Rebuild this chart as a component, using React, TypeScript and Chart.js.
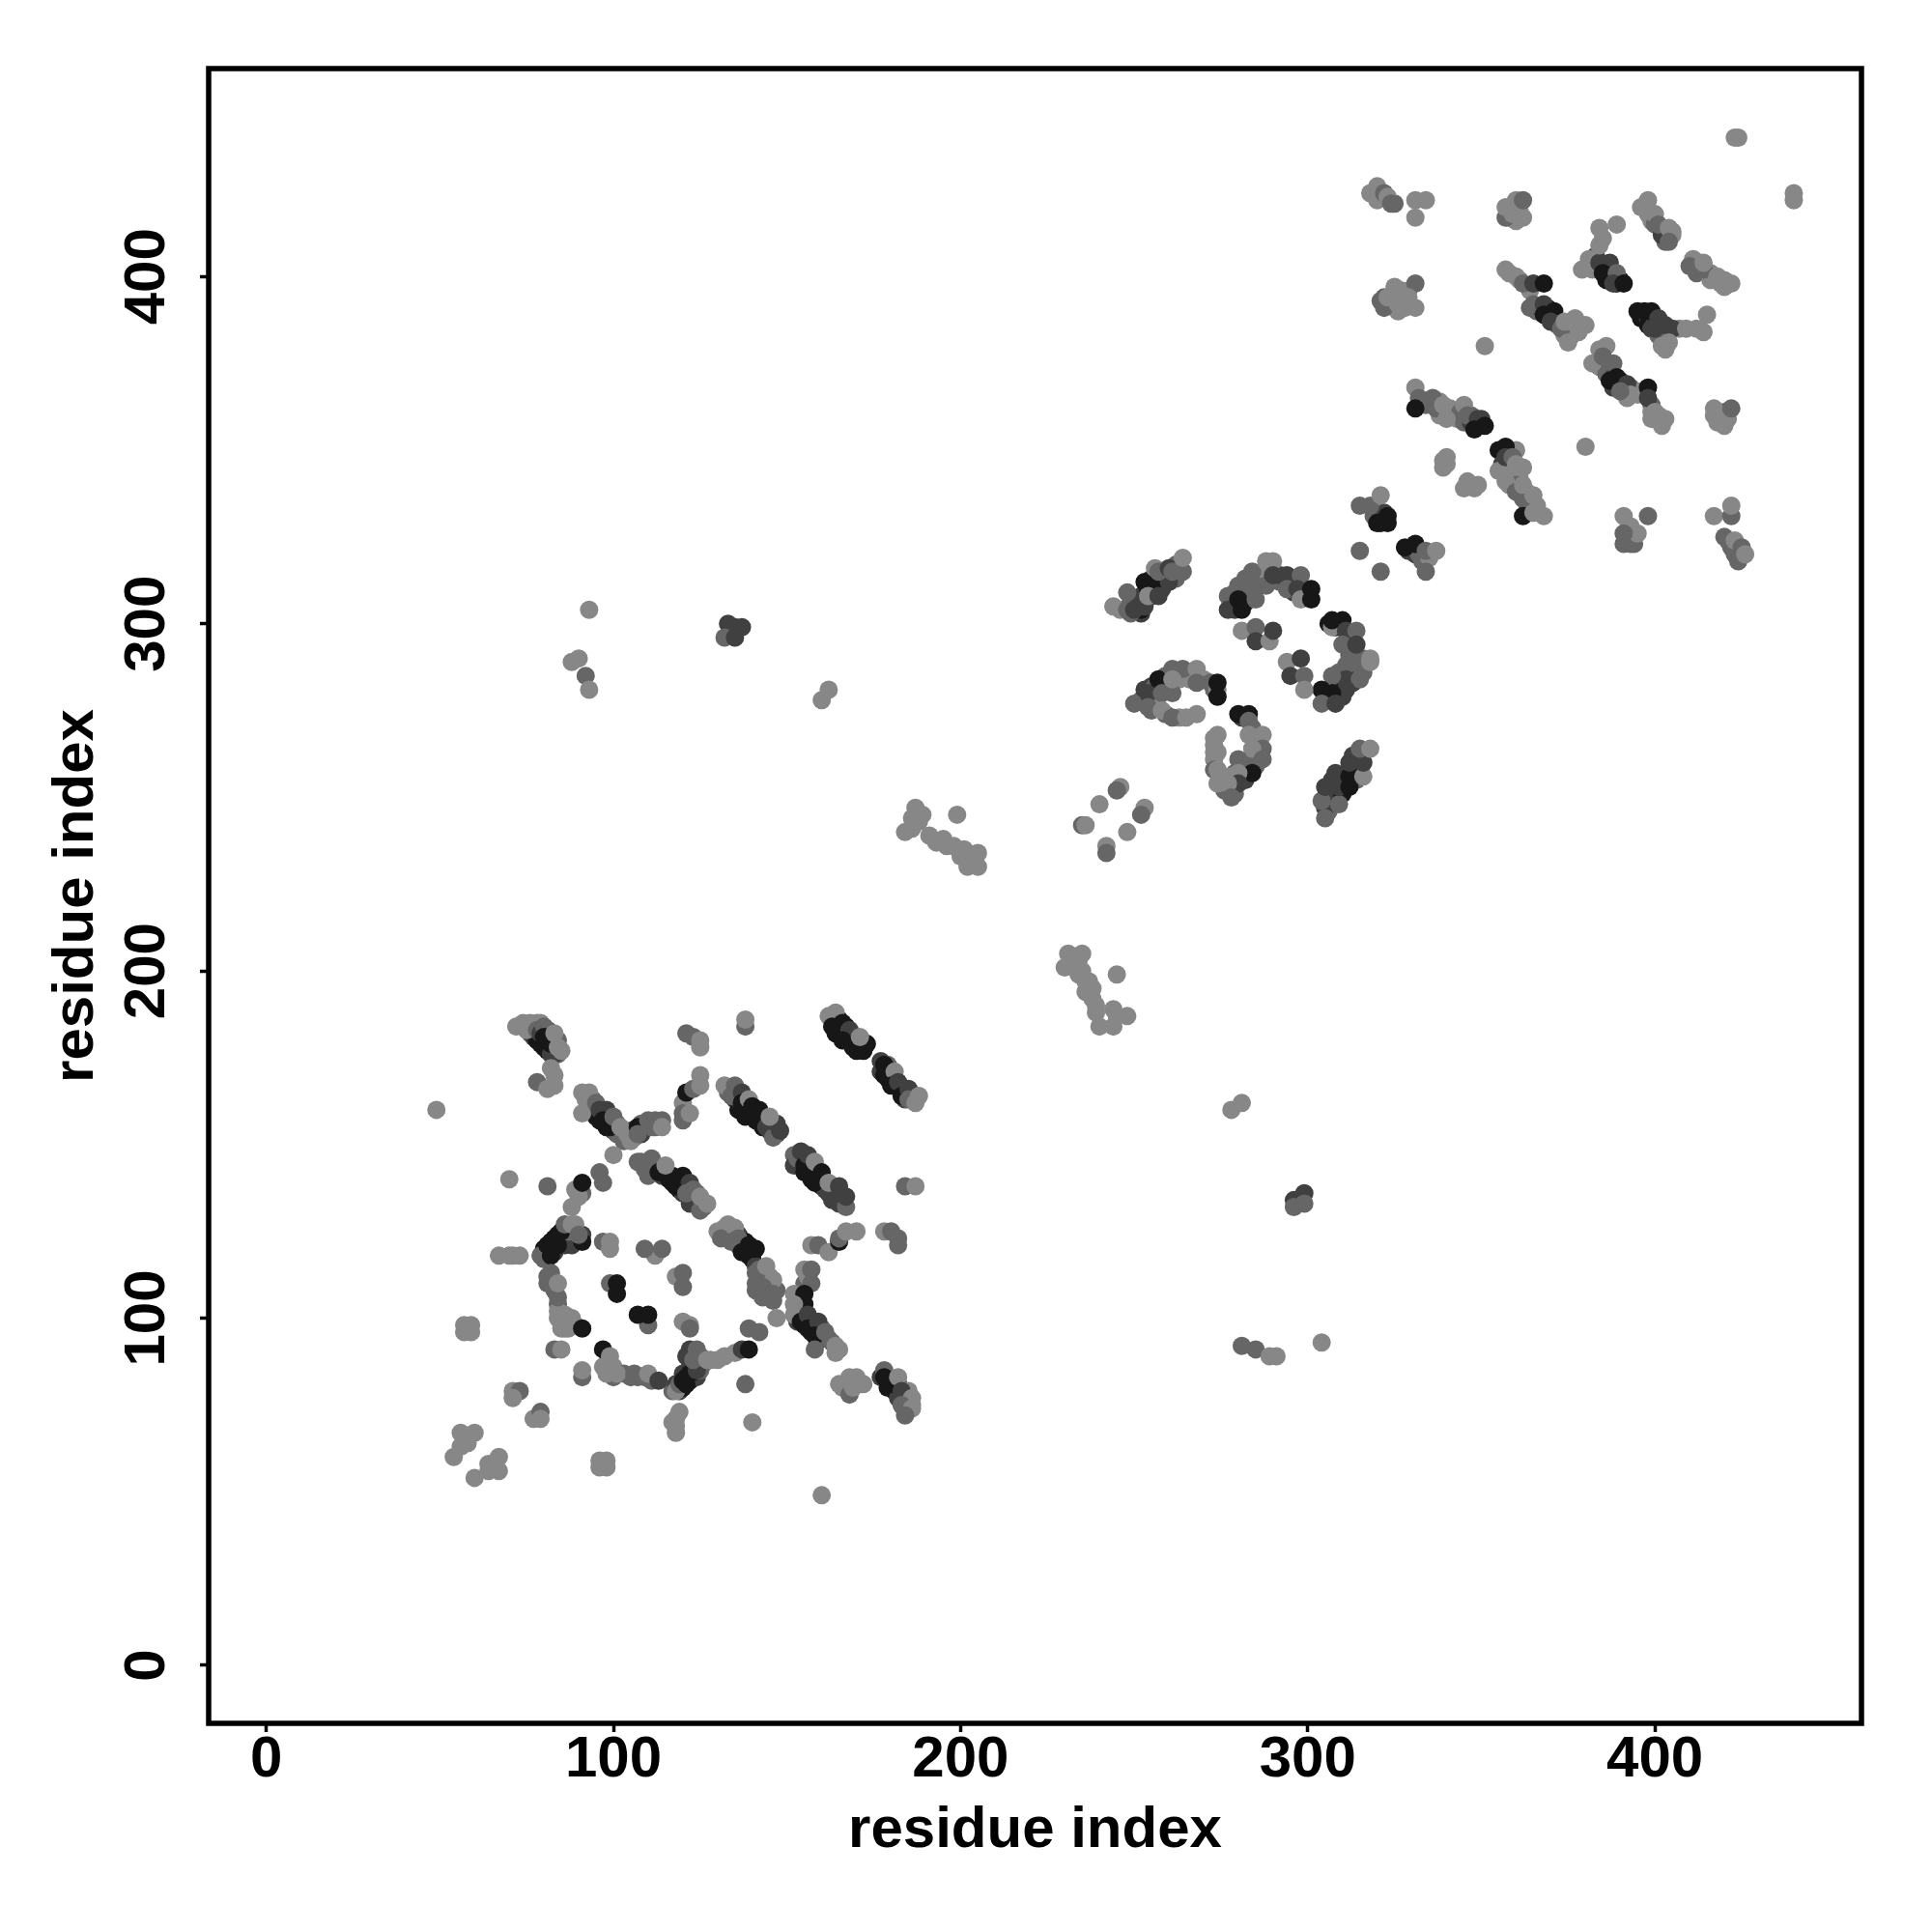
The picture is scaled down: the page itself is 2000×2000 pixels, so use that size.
import React, { useEffect, useRef } from "react";
import { Chart, registerables } from "chart.js";

Chart.register(...registerables);

// [residue x, residue y, contact strength 0..3]
type P = [number, number, number];

const lowerBandsUnder: P[] = [[76,182,1],[77,181,2],[78,180,3],[79,179,3],[80,178,3],[81,177,3],[82,176,2],[83,178,3],[84,176,1],[79,185,0],[81,183,2],[82,181,3],[84,180,1],
[92,163,0],[94,163,1],[94,160,2],[95,158,3],[96,157,3],[97,159,2],[98,155,3],[99,157,2],[100,154,2],[101,156,1],[101,153,1],[103,154,1],[105,152,1],[106,152,0],[105,154,2],[108,153,2],[108,156,1],[112,155,1],[112,157,1],[103,151,1],[105,151,0],
[163,186,1],[165,186,3],[165,183,3],[167,182,3],[167,184,3],[168,180,3],[170,180,3],[169,181,3],[172,177,3],[170,177,3],[171,179,3],[179,171,3],[179,169,3],[181,169,3],[181,167,3],[183,166,3],[184,165,3],[185,164,2],[184,163,2],[177,171,2],[177,174,2],[179,173,1],
[133,165,1],[134,166,1],[135,163,2],[136,160,3],[136,163,2],[138,161,3],[138,158,3],[140,159,3],[141,159,3],[142,157,3],[143,158,2],[143,155,3],[145,156,2],[145,154,2],[147,153,2],[146,154,2],[152,147,1],[152,144,2],[154,146,3],[153,144,2],[155,142,3],[157,143,3],[156,144,3],[157,140,3],[159,141,3],[160,138,3],[160,140,2],[161,137,2],[163,137,2],[163,134,2],[164,135,2],[165,133,2],[165,136,2],[166,133,2],
[108,145,1],[110,143,1],[112,144,1],[112,142,1],[114,141,2],[116,140,3],[117,141,3],[117,139,3],[119,139,3],[119,137,3],[120,136,2],[121,138,2],[122,135,1],[123,134,1],[124,133,1],[124,136,1],[126,132,1]];
const ringBandsUnder: P[] = [[80,118,2],[80,120,3],[82,120,3],[83,119,2],[82,122,3],[84,122,3],[84,124,3],[86,124,2],[87,123,2],[85,122,2],[86,121,2],[88,121,2],[89,122,2],[91,124,2],[88,125,1],[87,125,1],[89,127,0],[80,117,1],[81,112,1],[82,111,1],[83,108,1],[84,104,1],[84,102,0],[85,100,0],[86,97,0],[87,97,0],[88,100,0],[86,101,0],
[117,79,1],[118,81,2],[119,79,2],[120,80,3],[120,84,2],[121,83,3],[122,82,3],[123,83,3],[123,86,2],[124,87,2],[125,87,1],[126,87,1],[124,83,2],[121,89,2],[122,86,2],[125,85,1],[98,87,0],[100,86,0],[100,83,1],[103,84,1],[107,83,1],[105,83,1],[111,82,1],[98,84,0],[128,88,0],[130,88,0],
[130,125,0],[133,124,1],[133,127,0],[134,124,1],[136,124,2],[136,121,2],[137,122,2],[138,122,3],[138,120,3],[139,118,3],[140,119,3],[140,117,3],[141,115,2],[142,114,1],[142,112,1],[143,112,1],[145,112,0],[144,110,1],[141,108,1],[145,108,1],[147,108,1],[143,106,1],[146,105,1],
[153,105,1],[153,102,1],[153,99,2],[154,102,2],[155,100,3],[155,98,3],[157,99,3],[157,96,3],[158,98,2],[159,96,2],[160,94,2],[160,97,1],[162,94,1],[163,93,1],[164,90,0],[155,110,1],[156,112,0],[153,104,3],[155,104,3],
[177,83,2],[179,82,3],[179,80,3],[181,79,3],[182,81,3],[181,82,1],[182,77,2],[184,77,2],[185,75,1],[184,74,1],[185,79,0],[186,75,0],[183,76,2],[166,80,0],[167,81,0],[172,81,0]];
const middleBandsUnder: P[] = [[232,203,0],[234,203,0],[233,201,0],[235,200,0],[236,194,0],[237,197,0],[238,192,0],[239,188,0],[186,241,0],[188,243,0],[193,237,0],[196,236,0],[200,233,0],[203,232,0],[204,232,0],[201,235,0],
[246,304,0],[249,306,1],[251,306,2],[252,303,2],[252,308,2],[254,310,3],[255,308,2],[256,310,3],[258,310,2],[255,313,2],[258,314,2],[259,313,2],[262,313,1],[263,316,1],[262,317,1],[252,304,3],[249,303,1],
[278,306,1],[279,309,1],[279,304,2],[281,309,2],[282,306,2],[283,312,1],[283,309,1],[282,313,1],[286,313,1],[287,312,1],[287,315,1],[288,314,0],[292,312,1],[292,314,2],[296,312,2],[296,309,2],[299,308,1],[300,308,0],
[306,300,3],[308,299,3],[312,296,1],[312,291,2],[312,290,1],[313,287,2],[316,290,1],[316,286,1],[313,283,2],[309,286,1],[309,283,2],[309,280,3],[306,278,2],[306,279,3],[310,279,2],
[252,278,1],[253,281,2],[255,282,2],[256,282,1],[258,282,1],[259,285,1],[256,278,0],[255,275,1],[263,284,0],[265,286,0],[266,284,0],[270,284,0],[272,283,1],[273,281,1],[274,281,0],[263,273,0],[257,276,0],[259,274,1],
[281,273,2],[284,270,1],[285,267,1],[286,266,1],[285,262,1],[285,259,1],[282,259,1],[282,255,2],[279,257,1],[278,256,0],[276,256,0],[276,252,1],[279,251,1],[274,263,0],[273,263,0],[275,256,0],[273,267,0],
[305,250,2],[306,246,1],[306,251,2],[307,255,2],[310,255,3],[310,251,3],[313,258,3],[313,262,2],[314,255,1],[305,247,2]];
const upperBandsUnder: P[] = [[333,364,1],[334,363,1],[336,363,1],[338,360,0],[338,364,0],[340,361,0],[341,362,0],[342,361,0],[343,359,0],[344,361,1],[345,358,1],[347,358,2],[347,360,1],[349,357,3],[350,359,2],[339,347,0],[340,346,0],[346,341,0],[348,339,0],
[355,350,3],[356,346,2],[358,347,2],[358,344,1],[359,344,0],[361,342,0],[359,342,0],[358,340,0],[360,340,1],[361,338,1],[363,338,0],[362,336,1],[364,333,1],[366,334,0],[365,335,0],[363,332,2],[360,350,0],[355,344,0],
[358,401,0],[361,399,0],[364,391,1],[366,390,1],[367,391,2],[369,389,3],[369,391,3],[371,388,2],[372,386,1],[374,384,0],[376,385,0],[376,383,0],[378,384,0],[374,383,0],[377,388,0],[364,396,0],
[383,406,2],[385,403,3],[386,402,3],[387,400,3],[386,399,3],[390,399,3],[389,398,3],[382,402,0],[395,390,3],[396,388,3],[398,388,2],[398,386,3],[400,387,2],[402,386,2],[399,385,2],[403,384,1],[401,383,1],[403,379,0],[407,385,0],
[384,379,0],[384,374,0],[386,374,1],[386,372,1],[388,371,2],[388,368,2],[390,370,2],[391,367,1],[393,368,1],[395,366,0],[399,363,1],[399,361,0],[401,360,0],[403,359,0],[400,359,0],[392,365,0],[396,367,0],
[397,420,0],[398,418,0],[399,416,0],[400,415,1],[402,414,0],[403,410,1],[405,413,0],[412,403,1],[412,401,1],[413,404,0],[416,401,0],[416,399,0],[419,398,0],[420,399,0],[358,419,0],[361,419,0],[358,417,1],[360,416,0],[418,360,0],[419,358,0],[420,361,1],[420,357,0],[392,324,1],[392,327,0],[393,323,1],[420,325,1],[422,322,1],[423,320,1],[325,421,1],[322,423,0],[320,422,0],
[324,393,1],[325,395,0],[327,396,0],[326,390,0],[328,391,0],[329,396,0],[322,394,1],[319,331,1],[321,331,2],[322,332,2],[329,321,2],[331,320,2],[332,320,1],[333,318,1],[335,319,0]];

const ringNorthWest: P[] = [[72,184,0],[74,185,0],[76,185,0],[78,185,0],[75,183,0],[83,176,2],[78,183,1],[79,182,2],[80,184,1],[80,181,3],[81,180,3],[82,179,3],[83,182,0],[84,178,0],[85,177,0],
[78,168,1],[82,172,0],[83,170,0],[81,166,0],[83,167,0]];
const ringNorth: P[] = [[91,165,0],[93,165,0],[91,159,0],[93,162,0],[95,162,1],[96,160,2],[98,160,2],[97,157,3],[99,155,3],[100,158,1],[102,155,0],[104,153,0],[107,155,3],[107,153,1],[110,157,1],[111,155,1],[114,157,1],[114,155,0],
[121,182,1],[123,181,1],[125,180,0],[125,178,0],[138,184,1],[138,186,0],
[120,162,0],[120,159,1],[120,157,1],[122,159,0],[121,165,3],[123,166,1],[125,170,0],[125,167,0]];
const strandA: P[] = [[164,188,0],[162,187,0],[163,184,3],[166,185,3],[164,182,3],[168,183,2],[166,180,3],[169,178,3],[171,178,3],[173,179,3],[171,181,0],
[178,173,3],[178,170,3],[181,171,0],[180,167,3],[182,168,2],[183,164,3],[185,166,2],[185,163,1],[187,162,0],[188,164,0]];
const strandB: P[] = [[132,167,0],[135,167,1],[134,164,1],[137,165,2],[137,162,3],[139,163,0],[139,159,3],[140,161,3],[142,160,3],[141,157,3],[144,155,2],[146,152,1],[147,156,2],[148,154,2],[145,158,0],
[153,146,1],[154,148,2],[155,144,3],[156,147,2],[157,141,3],[158,145,0],[158,139,3],[160,142,3],[162,136,2],[162,139,0],[165,138,2],[167,132,1],[167,135,2]];
const innerLeft: P[] = [[100,147,0],[96,142,1],[97,139,1],[91,136,1],[89,137,0],[90,135,0],[88,132,0],[91,139,3],[70,140,0],[81,138,1]];
const strandC: P[] = [[107,145,1],[111,146,1],[109,143,1],[110,141,1],[113,142,3],[115,144,0],[118,138,3],[120,141,3],[122,139,2],[122,133,2],[121,136,1],[123,137,1],[125,131,1],[125,135,0],[127,133,0]];
const ringWest: P[] = [[79,118,1],[82,118,3],[81,121,3],[84,121,3],[83,123,3],[85,125,3],[91,122,3],[86,127,1],[88,127,0],[90,124,1],
[67,118,0],[70,118,0],[71,118,0],[73,118,0],[97,122,1],[99,122,0],[99,120,0],
[82,113,1],[81,110,1],[84,106,1],[84,110,0],[84,100,0],[87,99,0],[85,97,0],[89,98,0],[91,97,3]];
const innerCore: P[] = [[112,118,0],[109,120,1],[114,120,1],[118,112,0],[120,113,1],[120,109,1],[99,110,1],[101,110,3],[101,107,3],[110,98,1],[107,101,3],[110,101,3],[120,99,0],[122,98,0],[122,97,1]];
const ringSouth: P[] = [[57,98,0],[59,98,0],[57,96,0],[59,96,0],[83,91,1],[85,91,0],[91,83,1],[91,85,0],[97,91,3],[99,89,0],[97,86,0],[99,85,0],[101,84,0],[106,84,1],[109,83,1],[110,84,0],[113,82,2],
[118,79,0],[119,81,1],[120,82,3],[121,81,3],[122,84,3],[124,85,2],[122,91,2],[124,91,1],[123,88,1],[125,89,1],[127,88,0]];
const ringEast: P[] = [[132,89,0],[135,90,0],[137,91,2],[139,91,3],[139,97,1],[142,96,1],[147,100,0],[138,81,1],[140,70,0]];
const strandD: P[] = [[132,126,0],[131,123,1],[135,126,0],[136,123,1],[134,122,1],[137,119,3],[139,121,3],[141,120,3],[141,113,1],[144,115,0],[146,111,0],[141,110,1],[143,109,1],[144,107,1],[146,107,1]];
const crossing: P[] = [[155,114,0],[157,114,1],[157,110,1],[152,107,0],[155,107,3],[152,104,0],[152,101,0],[154,99,3],[156,101,2],[156,97,3],[159,99,2],[158,95,3],[161,96,1],[158,91,1],[164,92,0],[165,91,0]];
const crossingUp: P[] = [[157,121,0],[159,121,1],[162,119,0],[165,122,3],[165,123,1],[167,125,0],[170,125,0],[184,138,1],[187,138,0],[178,125,0],[180,125,1],[182,123,1],[182,121,1]];
const strandE: P[] = [[165,81,0],[168,83,0],[168,78,1],[170,83,0],[171,81,0],[169,80,0],[178,85,1],[178,83,3],[180,81,3],[182,83,0],[183,79,2],[186,77,0],[183,75,1],[186,74,0],[184,72,1]];
const lowerLeft: P[] = [[71,79,0],[73,79,1],[71,77,0],[77,71,0],[79,73,1],[79,71,0],[118,71,0],[119,73,0],[117,70,0],[118,69,0],[118,67,0],
[56,67,0],[60,67,0],[58,66,0],[56,63,0],[58,64,0],[54,60,0],[67,60,0],[64,58,0],[67,56,0],[64,56,0],[60,54,0],
[96,59,0],[98,59,0],[96,57,0],[98,57,0],[160,49,0],[49,160,0]];

const middleDiagonal: P[] = [[231,205,0],[235,205,0],[230,201,0],[234,199,0],[236,197,0],[238,195,0],[239,190,0],[245,199,0],[240,184,0],[244,184,0],[244,189,0],[248,187,0],[245,187,0],
[184,240,0],[186,244,0],[187,247,0],[189,245,0],[199,245,0],[191,239,0],[195,238,0],[198,236,0],[202,234,0],[205,234,0],[202,230,0],[205,230,0],
[135,299,2],[133,300,2],[137,299,2],[132,296,1],[135,296,2],[93,304,0],[88,289,0],[90,290,0],[92,285,1],[93,281,0],[160,278,0],[162,281,0],
[296,134,2],[299,136,2],[296,132,1],[299,133,1],[278,160,0],[281,162,0],[281,92,1],[285,91,1],[289,89,0],[291,89,0],[304,93,0]];
const helixA: P[] = [[244,305,0],[248,309,1],[248,304,1],[250,304,2],[253,305,2],[253,312,3],[257,312,3],[254,308,0],[257,308,2],[260,312,2],[256,316,0],[257,315,1],[260,316,2],[261,315,1],[264,315,1],[264,319,0]];
const helixB: P[] = [[277,308,1],[277,304,2],[280,311,1],[280,307,3],[281,304,3],[284,315,1],[285,311,1],[285,307,1],[288,311,1],[288,318,0],[290,318,0],[290,314,2],[294,314,2],[294,310,1],[298,314,1],[297,310,2],[298,307,0],[301,310,3],[301,307,3],
[281,298,0],[285,299,1],[285,295,2],[289,295,0],[290,298,2]];
const helixC: P[] = [[307,299,0],[307,301,3],[310,301,3],[311,298,2],[314,298,1],[310,294,1],[314,294,2],[311,288,1],[315,288,1],[318,290,0],[318,289,0],[311,284,2],[315,284,1],[307,285,1],[311,281,2],[304,281,3],[307,280,3],[304,277,1],[308,277,2],
[294,289,0],[298,290,2],[295,285,2],[299,285,1],[299,281,0]];
const helixD: P[] = [[250,277,1],[254,280,2],[257,284,3],[254,276,1],[258,280,1],[261,280,1],[261,287,1],[264,287,1],[261,284,0],[268,287,0],[268,283,1],[258,275,0],[261,273,1],[265,273,0],[268,274,0],[274,279,3],[274,283,3]];
const helixE: P[] = [[280,274,3],[283,274,3],[283,272,1],[283,268,0],[287,268,0],[287,264,1],[284,264,0],[287,261,1],[280,261,1],[284,257,3],[280,257,0],[280,254,2],[277,254,0],[278,250,1],[274,268,0],[273,265,0],[273,261,0],[273,258,1],[274,258,0],[274,254,0]];
const helixF: P[] = [[305,244,1],[304,249,1],[305,253,2],[309,248,1],[309,253,2],[308,257,2],[312,253,3],[312,256,3],[312,260,2],[316,256,0],[316,260,2],[315,264,1],[318,264,0],
[246,253,0],[245,252,1],[240,248,0],[235,242,1],[236,242,0],[253,247,0],[252,245,1],[248,240,0],[242,236,0],[242,234,1]];

const upperMid: P[] = [[315,334,1],[318,334,1],[321,337,0],[320,329,3],[323,331,3],[323,329,3],[315,321,1],[321,315,1],[321,329,3],[328,322,3],[331,323,3],[334,321,1],[337,321,0],[334,315,1],
[321,393,1],[322,391,1],[325,397,0],[331,398,1],[326,392,0],[329,394,0],[331,391,0],[323,394,0],
[318,424,0],[320,426,0],[322,424,1],[323,423,0],[324,421,1],[331,422,0],[334,422,0],[331,417,0]];
const upperLeft: P[] = [[331,368,0],[332,365,1],[331,362,3],[336,365,1],[337,362,1],[339,363,0],[340,359,0],[345,363,0],[346,360,1],[349,359,2],[348,356,3],[351,357,3],
[340,348,0],[339,345,0],[347,340,0],[345,339,0],[349,340,0],[351,380,0],[380,351,0]];
const strandF: P[] = [[357,351,3],[357,348,2],[359,348,1],[360,346,0],[362,345,0],
[357,341,0],[360,338,1],[362,340,0],[363,335,1],[365,337,0],[362,331,3],[365,332,0],[368,331,0]];
const strandG: P[] = [[357,402,0],[360,400,0],[362,398,1],[365,398,2],[368,398,3],
[365,392,1],[368,392,2],[371,390,3],[368,389,3],[370,387,2],[373,385,1],[374,387,0],[376,387,0],[380,386,0],[375,381,0]];
const strandH: P[] = [[379,402,0],[381,405,0],[384,404,2],[387,404,2],[385,401,3],[389,401,1],[388,398,2],[391,398,3],[384,414,0],[389,415,0],[385,411,0],[384,409,0],
[397,390,3],[399,390,3],[401,388,2],[403,386,2],[400,385,2],[405,385,2],[402,380,0],[404,381,0],[409,385,0],[412,385,0],[414,384,0],[415,389,0]];
const strandI: P[] = [[386,380,0],[382,375,0],[385,377,1],[388,375,1],[389,371,3],[387,370,3],[392,369,2],[393,366,0],[390,367,1],[398,368,3],[398,365,2],[400,361,0],[402,359,0],[399,359,0],[402,357,0]];
const upperRight: P[] = [[398,422,0],[396,420,0],[400,418,0],[402,412,2],[401,415,1],[404,414,0],[405,412,0],[404,410,1],
[411,405,0],[410,403,1],[414,402,1],[414,404,0],[418,400,0],[420,397,0],[422,398,0],
[357,417,1],[359,418,0],[362,417,0],[357,420,0],[360,422,0],[362,422,1],
[417,362,0],[418,358,0],[417,360,0],[421,359,0],[422,362,1],
[391,331,0],[398,331,1],[391,323,1],[394,323,1],[395,326,0],[393,328,0],[391,326,1],
[417,331,0],[422,331,1],[422,334,0],[421,324,1],[423,324,0],[425,322,1],[424,318,1],[426,320,0],
[424,440,0],[423,440,0],[440,424,0],[440,422,0]];

const contactClusters: P[][] = [lowerBandsUnder, ringBandsUnder, middleBandsUnder, upperBandsUnder, ringNorthWest, ringNorth, strandA, strandB, innerLeft, strandC, ringWest, innerCore, ringSouth, ringEast, strandD, crossing, crossingUp, strandE, lowerLeft, middleDiagonal, helixA, helixB, helixC, helixD, helixE, helixF, upperMid, upperLeft, strandF, strandG, strandH, strandI, upperRight];

const tickValues = [0, 100, 200, 300, 400];
const axisTitle = "residue index";

const strengthShades = ["#878787", "#666666", "#404040", "#171717"];
const FONT = { family: "'Liberation Sans', Arial, sans-serif", size: 60, weight: "bold" as const };

const plotFrame = {
  id: "plotFrame",
  afterDraw(chart: any) {
    const { ctx, chartArea: a } = chart;
    ctx.save();
    ctx.strokeStyle = "#000";
    ctx.lineWidth = 5.5;
    ctx.strokeRect(a.left, a.top, a.right - a.left, a.bottom - a.top);
    ctx.restore();
  },
};

export default function App() {
  const ref = useRef<HTMLCanvasElement>(null);
  useEffect(() => {
    const points = contactClusters.flat();
    const setTicks = (s: any) => {
      s.ticks = tickValues.map((value) => ({ value }));
    };
    const grid = { drawOnChartArea: false, drawTicks: true, tickLength: 9, tickColor: "#000", tickWidth: 3.5 };
    const chart = new Chart(ref.current!, {
      type: "scatter",
      data: {
        datasets: [
          {
            data: points.map(([x, y]) => ({ x, y })),
            backgroundColor: points.map((p) => strengthShades[p[2]]),
            borderWidth: 0,
            pointRadius: 9.5,
            pointHoverRadius: 9.5,
          },
        ],
      },
      options: {
        responsive: false,
        animation: false,
        layout: { padding: { left: 0, top: 71, right: 73, bottom: 0 } },
        plugins: { legend: { display: false }, tooltip: { enabled: false } },
        scales: {
          x: {
            type: "linear",
            min: -16.6,
            max: 459.5,
            afterBuildTicks: setTicks,
            afterFit: (s: any) => { s.height = 216; },
            grid,
            border: { display: false },
            ticks: { color: "#000", font: FONT, padding: -7, maxRotation: 0, minRotation: 0 },
            title: { display: true, text: axisTitle, color: "#000", font: FONT, padding: { top: 0, bottom: 69 } },
          },
          y: {
            type: "linear",
            min: -16.7,
            max: 459.9,
            afterBuildTicks: setTicks,
            afterFit: (s: any) => { s.width = 216; },
            grid,
            border: { display: false },
            ticks: { color: "#000", font: FONT, padding: 3, minRotation: 90, maxRotation: 90, crossAlign: "center" },
            title: { display: true, text: axisTitle, color: "#000", font: FONT, padding: { top: 43, bottom: 0 } },
          },
        },
      },
      plugins: [plotFrame],
    } as any);
    return () => chart.destroy();
  }, []);
  return (
    <div style={{ position: "absolute", left: 0, top: 0, width: 2000, height: 2000, background: "#fff" }}>
      <canvas ref={ref} width={2000} height={2000} style={{ display: "block" }} />
    </div>
  );
}
